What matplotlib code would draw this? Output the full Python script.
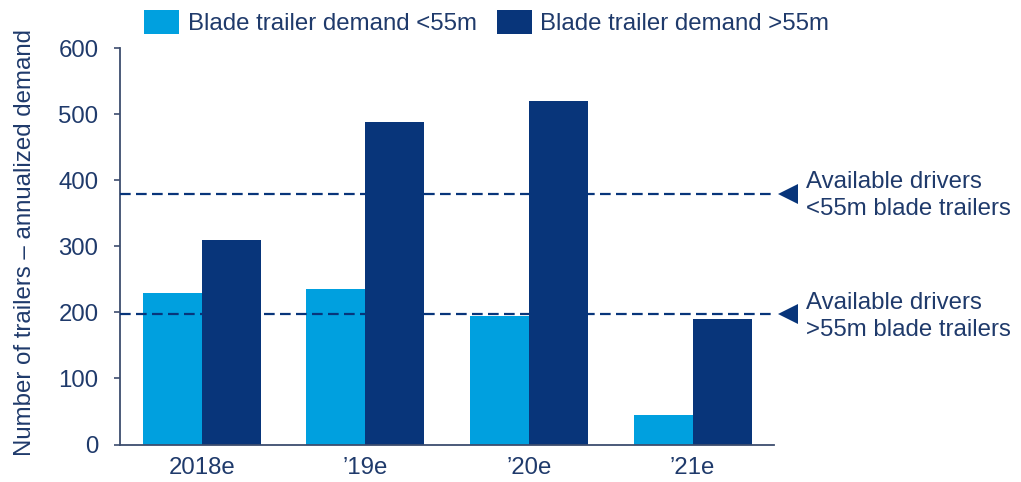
import matplotlib
matplotlib.use("Agg")
import matplotlib.pyplot as plt
import numpy as np

categories = ["2018e", "\u201919e", "\u201920e", "\u201921e"]
demand_lt55 = [230, 235, 195, 45]
demand_gt55 = [310, 489, 520, 190]
drivers_lt55 = 380
drivers_gt55 = 197
series_labels = ["Blade trailer demand <55m", "Blade trailer demand >55m"]
ref_labels = ["Available drivers\n<55m blade trailers", "Available drivers\n>55m blade trailers"]
y_ticks = [0, 100, 200, 300, 400, 500, 600]
y_label = "Number of trailers \u2013 annualized demand"

LIGHT = "#00A0DF"
DARK = "#08357A"
TEXT = "#1F3A6B"
AXIS = "#3D4D6E"
FS = 17.3

plt.rcParams["font.family"] = ["Liberation Sans", "DejaVu Sans"]

fig = plt.figure(figsize=(10.21, 4.82), dpi=100)
ax = fig.add_axes([0.1175, 0.0778, 0.641, 0.822])

x = np.arange(len(categories))
w = 0.36
b1 = ax.bar(x - w / 2, demand_lt55, width=w, color=LIGHT, label=series_labels[0], zorder=2)
b2 = ax.bar(x + w / 2, demand_gt55, width=w, color=DARK, label=series_labels[1], zorder=2)

ax.set_xlim(-0.5, 3.5)
ax.set_ylim(0, 600)
ax.set_yticks(y_ticks)
ax.set_xticks(x)
ax.set_xticklabels(categories)

for s in ["top", "right"]:
    ax.spines[s].set_visible(False)
for s in ["left", "bottom"]:
    ax.spines[s].set_color(AXIS)
    ax.spines[s].set_linewidth(1.3)

ax.tick_params(axis="y", direction="out", length=4.5, width=1.2, color=AXIS,
               labelsize=FS, labelcolor=TEXT, pad=11)
ax.tick_params(axis="x", length=0, labelsize=FS, labelcolor=TEXT, pad=9)
ax.set_ylabel(y_label, fontsize=FS, color=TEXT)
ax.yaxis.set_label_coords(-0.128, 0.51)

for val, lab in [(drivers_lt55, ref_labels[0]), (drivers_gt55, ref_labels[1])]:
    ax.plot([-0.5, 3.51], [val, val], color=DARK, lw=1.6, ls=(0, (4.8, 2.4)),
            clip_on=False, zorder=3)
    ax.plot([3.585], [val], marker="<", color=DARK, markersize=15, clip_on=False,
            zorder=3, markeredgewidth=0)
    ax.text(3.695, val - 3, lab, fontsize=FS, color=TEXT, va="center", ha="left",
            linespacing=1.32, clip_on=False)

leg = fig.legend(handles=[b1, b2], loc="upper left", bbox_to_anchor=(0.132, 1.0),
                 ncol=2, frameon=False, fontsize=FS, labelcolor=TEXT,
                 handlelength=1.45, handleheight=1.2, handletextpad=0.35,
                 columnspacing=0.85, borderaxespad=0)

fig.savefig("out.png", dpi=100)
